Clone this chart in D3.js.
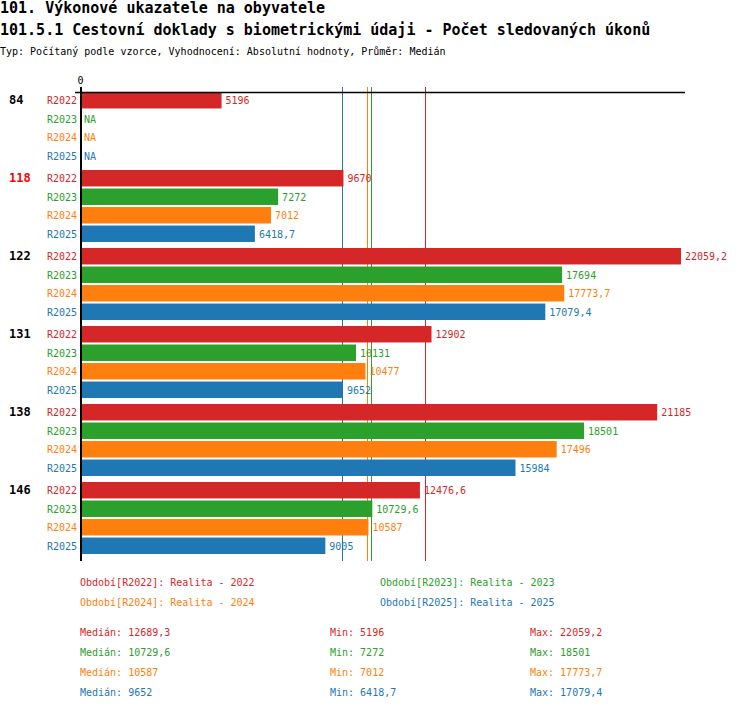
<!DOCTYPE html>
<html><head><meta charset="utf-8">
<script src="https://cdn.jsdelivr.net/npm/d3@7/dist/d3.min.js"></script>
<style>
body{margin:0;background:#fff;}
text{font-family:"DejaVu Sans Mono",monospace;}
</style></head>
<body>
<svg id="c" width="750" height="710"></svg>
<script>
const categories = ["84","118","122","131","138","146"];
const highlighted = ["118"];
const series = ["R2022","R2023","R2024","R2025"];
const seriesColors = ["#d62728","#2ca02c","#ff7f0e","#1f77b4"];
const values = {
  R2022: [5196, 9670, 22059.2, 12902, 21185, 12476.6],
  R2023: [null, 7272, 17694, 10131, 18501, 10729.6],
  R2024: [null, 7012, 17773.7, 10477, 17496, 10587],
  R2025: [null, 6418.7, 17079.4, 9652, 15984, 9005]
};
const legendLabels = ["Období[R2022]: Realita - 2022","Období[R2023]: Realita - 2023","Období[R2024]: Realita - 2024","Období[R2025]: Realita - 2025"];
const medians = [12689.3, 10729.6, 10587, 9652];
const mins = [5196, 7272, 7012, 6418.7];
const maxs = [22059.2, 18501, 17773.7, 17079.4];
const xTicks = [0];
const title1 = "101. Výkonové ukazatele na obyvatele";
const title2 = "101.5.1 Cestovní doklady s biometrickými údaji - Počet sledovaných úkonů";
const subtitle = "Typ: Počítaný podle vzorce, Vyhodnocení: Absolutní hodnoty, Průměr: Medián";

const fmt = v => String(v).replace(".", ",");
const svg = d3.select("#c");

svg.append("text").attr("x",0).attr("y",13).attr("font-size",15).attr("font-weight","bold").text(title1);
svg.append("text").attr("x",0).attr("y",35).attr("font-size",15).attr("font-weight","bold").text(title2);
svg.append("text").attr("x",0).attr("y",55).attr("font-size",10).text(subtitle);

const allMax = d3.max(series.flatMap(s => values[s].filter(v => v != null)));
const x = d3.scaleLinear().domain([0, allMax]).range([80, 681]);

const groupPitch = 78, rowPitch = 18, plotTop = 92;
const yGroup = d3.scaleBand().domain(categories).range([plotTop, plotTop + groupPitch*categories.length]).paddingInner(0).paddingOuter(0);
const yRow = d3.scaleBand().domain(series).range([0, rowPitch*series.length]).paddingInner(2/18).paddingOuter(0);

const axisTop = 87, axisBottom = 561;

// median lines (behind bars)
svg.append("g").selectAll("line").data(medians).join("line")
  .attr("x1", d => Math.round(x(d)-1)+0.5).attr("x2", d => Math.round(x(d)-1)+0.5)
  .attr("y1", axisTop).attr("y2", axisBottom)
  .attr("stroke", (d,i) => seriesColors[i]).attr("stroke-width", 1);

// bars
const rows = [];
categories.forEach((c, ci) => series.forEach((s, si) => rows.push({c, s, si, v: values[s][ci]})));
const g = svg.append("g");
g.selectAll("rect").data(rows.filter(r => r.v != null)).join("rect")
  .attr("x", x(0)).attr("y", r => yGroup(r.c) + yRow(r.s))
  .attr("width", r => x(r.v) - x(0)).attr("height", yRow.bandwidth())
  .attr("fill", r => seriesColors[r.si]);

// value labels
g.selectAll("text.val").data(rows).join("text").attr("class","val")
  .attr("x", r => (r.v == null ? x(0) : x(r.v)) + 4)
  .attr("y", r => yGroup(r.c) + yRow(r.s) + yRow.bandwidth()/2 + 4)
  .attr("font-size", 10).attr("fill", r => seriesColors[r.si])
  .text(r => r.v == null ? "NA" : fmt(r.v));

// series labels
g.selectAll("text.ser").data(rows).join("text").attr("class","ser")
  .attr("x", 77).attr("text-anchor","end")
  .attr("y", r => yGroup(r.c) + yRow(r.s) + yRow.bandwidth()/2 + 4)
  .attr("font-size", 10).attr("fill", r => seriesColors[r.si])
  .text(r => r.s);

// category labels
g.selectAll("text.cat").data(categories).join("text").attr("class","cat")
  .attr("x", 9).attr("y", c => yGroup(c) + yRow.bandwidth()/2 + 4)
  .attr("font-size", 12).attr("font-weight","bold")
  .attr("fill", c => highlighted.includes(c) ? "#ff0000" : "#000")
  .text(c => c);

// axis
const ax = svg.append("g").attr("transform", `translate(0,${plotTop})`)
  .call(d3.axisTop(x).tickValues(xTicks).tickSize(0).tickPadding(8).tickFormat(d3.format("d")));
ax.select(".domain").remove();
ax.selectAll("text").attr("font-family","DejaVu Sans Mono").attr("font-size",10).attr("fill","#000");
svg.append("line").attr("x1", x(0)-5).attr("x2", x.range()[1]+4).attr("y1", plotTop+0.5).attr("y2", plotTop+0.5)
  .attr("stroke","#000").attr("stroke-width",1.5);
svg.append("line").attr("x1", x(0)+1).attr("x2", x(0)+1).attr("y1", axisTop).attr("y2", axisBottom)
  .attr("stroke","#000").attr("stroke-width",2);

// legend
const lg = svg.append("g");
legendLabels.forEach((t, i) => {
  lg.append("text").attr("x", i % 2 === 0 ? 80 : 380).attr("y", 586 + Math.floor(i/2)*20)
    .attr("font-size",10).attr("fill", seriesColors[i]).text(t);
});
series.forEach((s, i) => {
  const yy = 636 + i*20;
  lg.append("text").attr("x",80).attr("y",yy).attr("font-size",10).attr("fill",seriesColors[i]).text("Medián: " + fmt(medians[i]));
  lg.append("text").attr("x",330).attr("y",yy).attr("font-size",10).attr("fill",seriesColors[i]).text("Min: " + fmt(mins[i]));
  lg.append("text").attr("x",530).attr("y",yy).attr("font-size",10).attr("fill",seriesColors[i]).text("Max: " + fmt(maxs[i]));
});
</script>
</body></html>
